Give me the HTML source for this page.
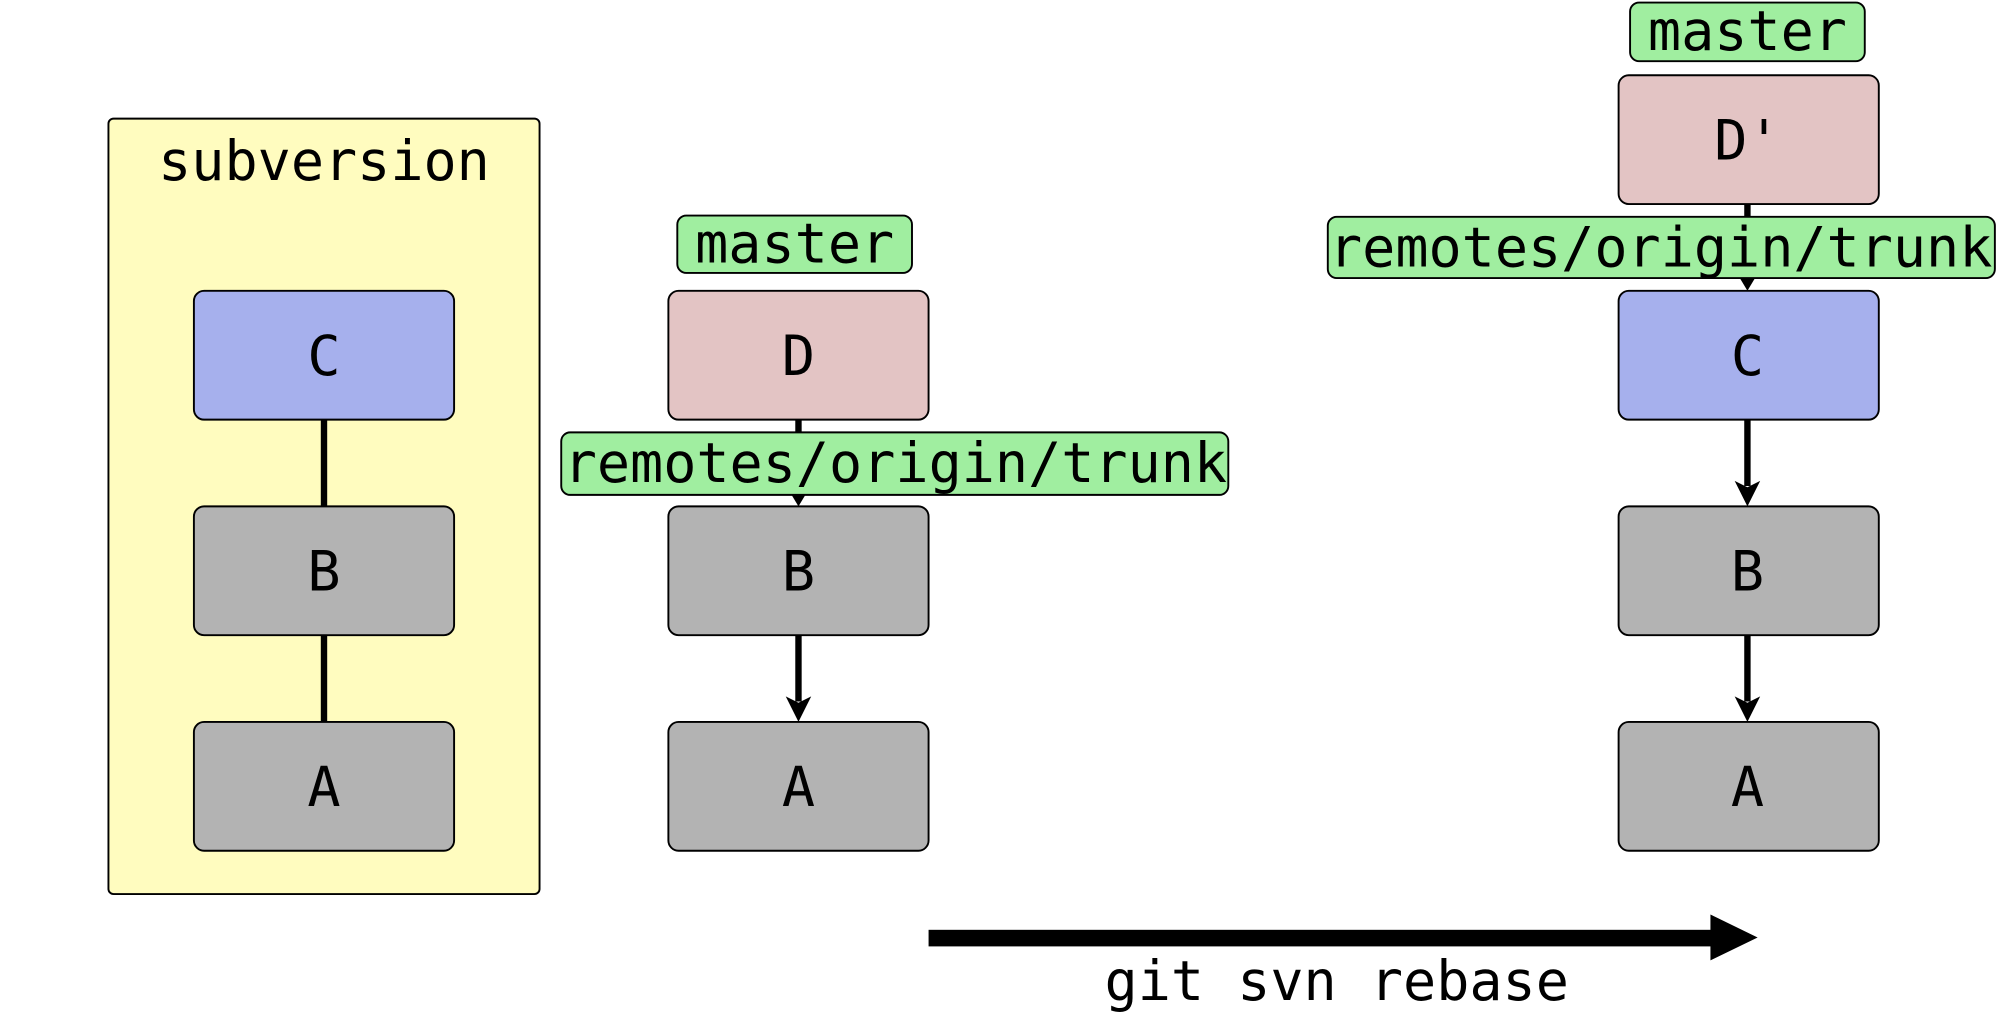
<!DOCTYPE html>
<html><head><meta charset="utf-8"><style>html,body{margin:0;padding:0;background:#fff}svg{display:block}</style></head>
<body>
<svg width="2000" height="1014" viewBox="0 0 1568 795" xmlns="http://www.w3.org/2000/svg">
<g font-family="'DejaVu Sans Mono','Liberation Mono',monospace" font-size="43.2" text-anchor="middle" stroke="#000">
<rect x="85" y="93" width="338" height="608" rx="4" fill="#fffcbf" stroke-width="1.5"/>
<text x="254" y="141" stroke="none">subversion</text>
<line x1="254" y1="329" x2="254" y2="566" stroke-width="5"/>
<rect x="152" y="228" width="204" height="101" rx="8" fill="#a6b0ed" stroke-width="1.5"/>
<rect x="152" y="397" width="204" height="101" rx="8" fill="#b3b3b3" stroke-width="1.5"/>
<rect x="152" y="566" width="204" height="101" rx="8" fill="#b3b3b3" stroke-width="1.5"/>
<text x="254" y="294" stroke="none">C</text>
<text x="254" y="463" stroke="none">B</text>
<text x="254" y="632" stroke="none">A</text>

<line x1="626" y1="329" x2="626" y2="385" stroke-width="5"/>
<path d="M620 387 L626 397 L632 387 Z" fill="#000" stroke="none"/>
<line x1="626" y1="498" x2="626" y2="550" stroke-width="5"/>
<path d="M616 546 L626 566 L636 546 L626 551 Z" fill="#000" stroke="none"/>
<rect x="524" y="228" width="204" height="101" rx="8" fill="#e3c4c4" stroke-width="1.5"/>
<rect x="524" y="397" width="204" height="101" rx="8" fill="#b3b3b3" stroke-width="1.5"/>
<rect x="524" y="566" width="204" height="101" rx="8" fill="#b3b3b3" stroke-width="1.5"/>
<text x="626" y="294" stroke="none">D</text>
<text x="626" y="463" stroke="none">B</text>
<text x="626" y="632" stroke="none">A</text>
<rect x="531" y="169" width="184" height="45" rx="7" fill="#a0eea0" stroke-width="1.5"/>
<text x="623" y="206" stroke="none">master</text>
<rect x="440" y="339" width="523" height="49" rx="7" fill="#a0eea0" stroke-width="1.5"/>
<text x="702" y="378" stroke="none">remotes/origin/trunk</text>

<line x1="1370" y1="160" x2="1370" y2="220" stroke-width="5"/>
<path d="M1364 218 L1370 228 L1376 218 Z" fill="#000" stroke="none"/>
<line x1="1370" y1="329" x2="1370" y2="381" stroke-width="5"/>
<path d="M1360 377 L1370 397 L1380 377 L1370 382 Z" fill="#000" stroke="none"/>
<line x1="1370" y1="498" x2="1370" y2="550" stroke-width="5"/>
<path d="M1360 546 L1370 566 L1380 546 L1370 551 Z" fill="#000" stroke="none"/>
<rect x="1269" y="59" width="204" height="101" rx="8" fill="#e3c4c4" stroke-width="1.5"/>
<rect x="1269" y="228" width="204" height="101" rx="8" fill="#a6b0ed" stroke-width="1.5"/>
<rect x="1269" y="397" width="204" height="101" rx="8" fill="#b3b3b3" stroke-width="1.5"/>
<rect x="1269" y="566" width="204" height="101" rx="8" fill="#b3b3b3" stroke-width="1.5"/>
<text x="1370" y="125" stroke="none">D'</text>
<text x="1370" y="294" stroke="none">C</text>
<text x="1370" y="463" stroke="none">B</text>
<text x="1370" y="632" stroke="none">A</text>
<rect x="1278" y="2" width="184" height="46" rx="7" fill="#a0eea0" stroke-width="1.5"/>
<text x="1370" y="39" stroke="none">master</text>
<rect x="1041" y="170" width="523" height="48" rx="7" fill="#a0eea0" stroke-width="1.5"/>
<text x="1302" y="209" stroke="none">remotes/origin/trunk</text>

<rect x="728" y="729" width="617" height="13" fill="#000" stroke="none"/>
<path d="M1341 717 L1378 735 L1341 753 Z" fill="#000" stroke="none"/>
<text x="1048" y="784" stroke="none">git svn rebase</text>
</g>
</svg>
</body></html>
